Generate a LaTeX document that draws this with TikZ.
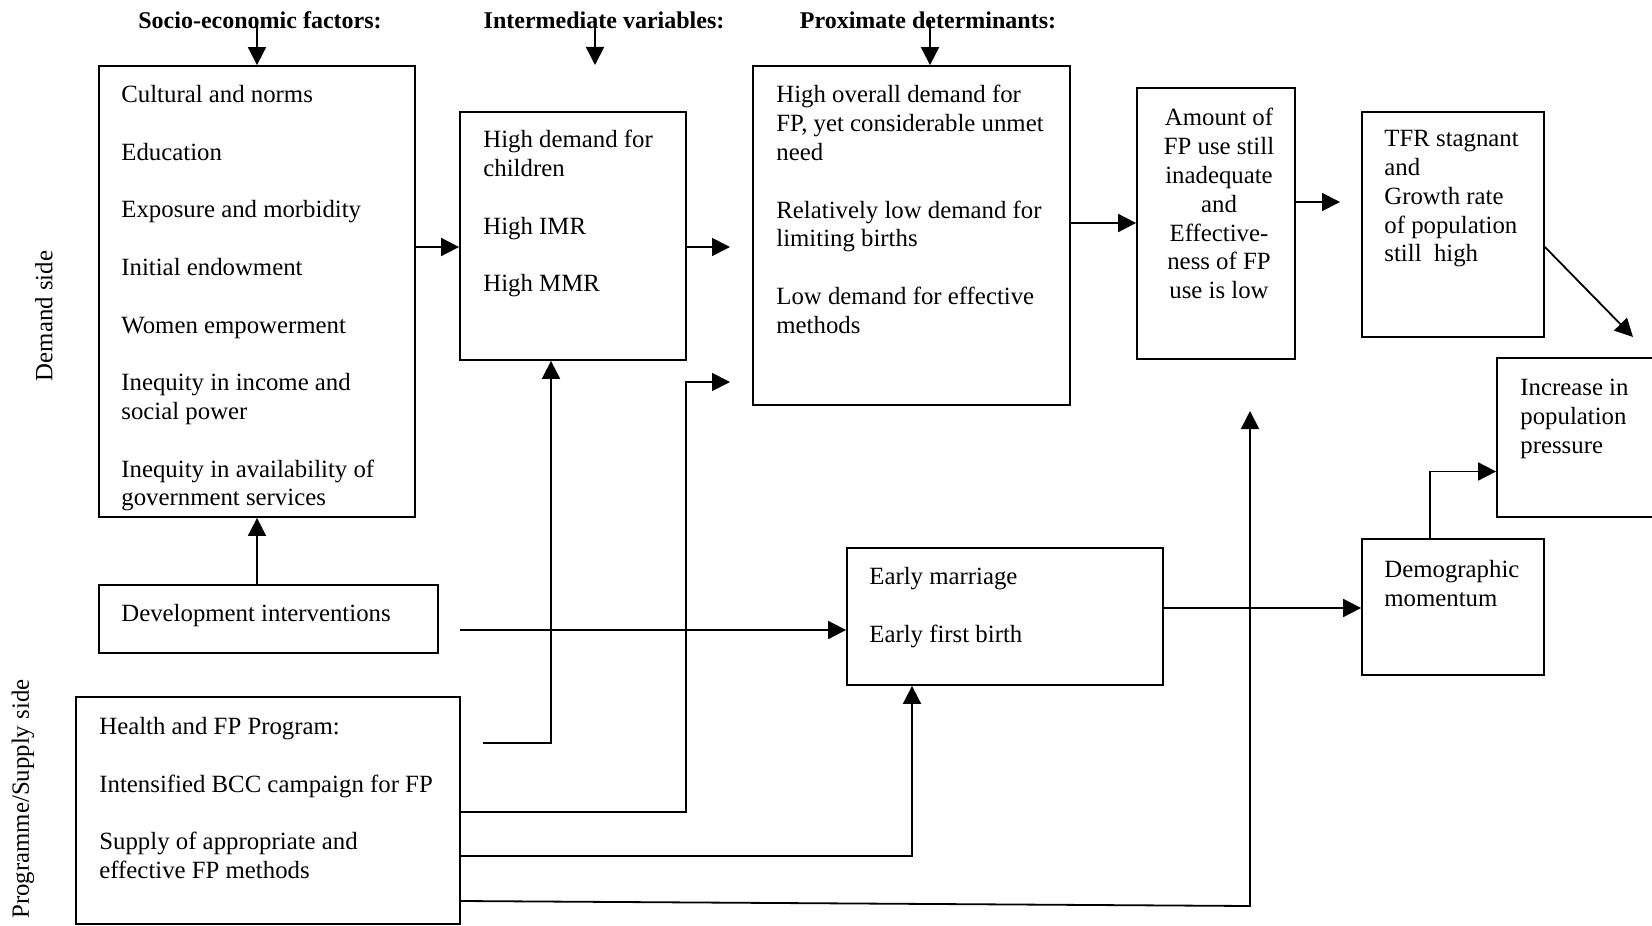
\documentclass[tikz,border=0pt]{standalone}
\usepackage{fontspec}
\setmainfont{Liberation Serif}
\usetikzlibrary{arrows.meta,fit,positioning}

\begin{document}
\begin{tikzpicture}[x=0.5pt,y=-0.5pt,
		box/.style={rectangle,draw,line width=0.9pt,inner sep=0pt},
		txt/.style={anchor=north west,align=left,inner sep=0pt,font=\fontsize{12.4}{14.4}\selectfont},
		hd/.style={inner sep=0pt,font=\fontsize{12}{14.4}\selectfont\bfseries},
		side/.style={rotate=90,inner sep=0pt,font=\fontsize{12.4}{14.4}\selectfont},
		arr/.style={line width=0.9pt,-{Triangle[length=9pt,width=9pt]}}]
			\useasboundingbox (0,0) rectangle (1652,925);

			% headings
			\node[hd] (hSoc) at (260,20) {Socio-economic factors:};
			\node[hd] (hInt) at (604,20) {Intermediate variables:};
			\node[hd] (hPro) at (928,20) {Proximate determinants:};

			% side labels
			\node[side] (dem) at (44,316) {Demand side};
			\node[side] (prog) at (23,799) {Programme/Supply side};

			% boxes
			\node[box,fit={(99,66) (415,517)}] (soc) {};
			\node[box,fit={(460,112) (686,360)}] (int) {};
			\node[box,fit={(753,66) (1070,405)}] (pro) {};
			\node[box,fit={(1137,88) (1295,359)}] (amt) {};
			\node[box,fit={(1362,112) (1544,337)}] (tfr) {};
			\node[box,fit={(1497,358) (1700,517)}] (inc) {};
			\node[box,fit={(99,585) (438,653)}] (dev) {};
			\node[box,fit={(76,697) (460,924)}] (hlth) {};
			\node[box,fit={(847,548) (1163,685)}] (early) {};
			\node[box,fit={(1362,539) (1544,675)}] (demo) {};

			% texts
			\node[txt] (socT) at (121,85) {Cultural and norms\\[14.4pt]
				Education\\[14.4pt]
				Exposure and morbidity\\[14.4pt]
				Initial endowment\\[14.4pt]
				Women empowerment\\[14.4pt]
				Inequity in income and\\social power\\[14.4pt]
				Inequity in availability of\\government services};
			\node[txt] (intT) at (483,130) {High demand for\\children\\[14.4pt] High IMR\\[14.4pt] High MMR};
			\node[txt] (proT) at (776,85) {High overall demand for\\FP, yet considerable unmet\\need\\[14.4pt]
				Relatively low demand for\\limiting births\\[14.4pt]
				Low demand for effective\\methods};
			\node[txt,anchor=north,align=center] (amtT) at (1219,108) {Amount of\\FP use still\\inadequate\\and\\Effective-\\ness of FP\\use is low};
			\node[txt] (tfrT) at (1384,130) {TFR stagnant\\and\\Growth rate\\of population\\still~ high};
			\node[txt] (incT) at (1520,379) {Increase in\\population\\pressure};
			\node[txt] (devT) at (121,604) {Development interventions};
			\node[txt] (hlthT) at (99,717) {Health and FP Program:\\[14.4pt]
				Intensified BCC campaign for FP\\[14.4pt]
				Supply of appropriate and\\effective FP methods};
			\node[txt] (earlyT) at (869,567) {Early marriage\\[14.4pt] Early first birth};
			\node[txt] (demoT) at (1384,560) {Demographic\\momentum};

			% free ends
			\coordinate (proIn) at (730,247);
			\coordinate (proIn2) at (730,382);
			\coordinate (tfrIn) at (1340,202);
			\coordinate (incIn) at (1633,337);
			\coordinate (amtIn) at (1250,411);
			\coordinate (devOut) at (460,630);
			\coordinate (hlthA) at (483,743);

			% connectors
			\draw[arr] (hSoc.center -| soc.north) -- (soc.north);
			\draw[arr] ([xshift=-4.5pt]hInt.center) -- ++(0,45);
			\draw[arr] ([xshift=1pt]hPro.center) -- ([xshift=1pt]hPro.center |- pro.north);

			\draw[arr] (soc.east |- proIn) -- (int.west |- proIn);
			\draw[arr] (int.east |- proIn) -- (proIn);
			\draw[arr] (pro.east |- 0,223) -- (amt.west |- 0,223);
			\draw[arr] (amt.east |- tfrIn) -- (tfrIn);
			\draw[arr] (tfr.east |- 0,247) -- (incIn);

			\draw[arr] (dev.north -| soc.south) -- (soc.south);
			\draw[arr] (devOut) -- (early.west |- devOut);

			\draw[arr] (hlthA) -| ([xshift=-11pt]int.south);
			\draw[arr] (hlth.east |- 0,812) -| ([xshift=-22pt]proIn2) -- (proIn2);
			\draw[arr] (hlth.east |- 0,856) -| ([xshift=-46.5pt]early.south);
			\draw[arr] (hlth.east |- 0,901) -- (amtIn |- 0,906) -- (amtIn);

			\draw[arr] (early.east |- 0,608) -- (demo.west |- 0,608);
			\draw[arr] ([xshift=-11.5pt]demo.north) |- ([yshift=-17pt]inc.west);
		\end{tikzpicture}
\end{document}
